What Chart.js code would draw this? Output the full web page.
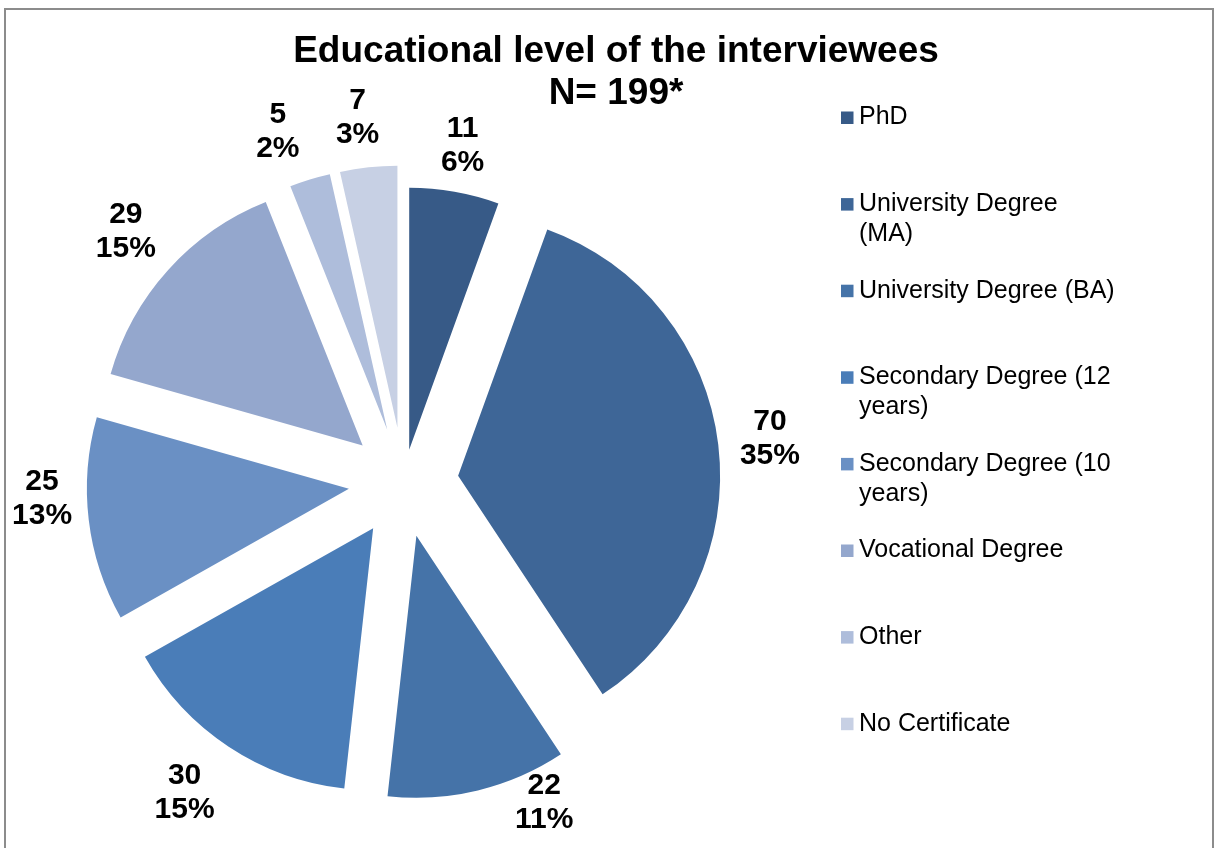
<!DOCTYPE html>
<html>
<head>
<meta charset="utf-8">
<title>Educational level of the interviewees</title>
<script src="https://cdn.jsdelivr.net/npm/chart.js@4.4.1/dist/chart.umd.min.js"></script>
<style>
  html, body { margin: 0; padding: 0; background: #fff; overflow: hidden; }
  #frame { position: absolute; left: 4px; top: 8px; width: 1206px; height: 900px; border: 2px solid #8c8c8c; }
  #wrap { position: absolute; left: 0; top: 0; width: 1216px; height: 848px; }
</style>
</head>
<body>
<div id="frame"></div>
<div id="wrap"><canvas id="pie"></canvas></div>
<script>
'use strict';
// survey data
var categories = [
    'PhD',
    ['University Degree', '(MA)'],
    'University Degree (BA)',
    ['Secondary Degree (12', 'years)'],
    ['Secondary Degree (10', 'years)'],
    'Vocational Degree',
    'Other',
    'No Certificate'
];
var counts = [11, 70, 22, 30, 25, 29, 5, 7];
var percentLabels = ['6%', '35%', '11%', '15%', '13%', '15%', '2%', '3%'];
var titleLines = ['Educational level of the interviewees', 'N= 199*'];

// look
var sliceColors = ['#375a87', '#3e6697', '#4573a8', '#4a7db8', '#6a90c4', '#94a7cd', '#aebddb', '#c7d0e4'];
var explode = [33, 55, 55, 55, 55, 55, 55, 55];   // px each slice is pulled out along its middle
var pieRadius = 262;
// label placement: extra turn (degrees) from the slice middle, and distance past the rim
var labelTurn = [0, 0, -12, 2, 5, 0, -3, -1];
var labelGap = [47, 52, 34, 63, 45, 57, 55, 50];
var FONT = "'Liberation Sans', Arial, sans-serif";

// exploded pie: move every arc out along its own bisector
// (chart.js 'offset' also resizes thin slices, so it is not used here)
var explodeSlices = {
    id: 'explodeSlices',
    afterDatasetUpdate: function (chart, args) {
        args.meta.data.forEach(function (arc, i) {
            var mid = (arc.startAngle + arc.endAngle) / 2;
            arc.x += Math.cos(mid) * explode[i];
            arc.y += Math.sin(mid) * explode[i];
        });
    }
};

// count + percent outside each slice
var sliceLabels = {
    id: 'sliceLabels',
    afterDatasetsDraw: function (chart) {
        var ctx = chart.ctx;
        var arcs = chart.getDatasetMeta(0).data;
        ctx.save();
        ctx.font = 'bold 30px ' + FONT;
        ctx.fillStyle = '#000';
        ctx.textAlign = 'center';
        ctx.textBaseline = 'middle';
        arcs.forEach(function (arc, i) {
            var a = (arc.startAngle + arc.endAngle) / 2 + labelTurn[i] * Math.PI / 180;
            var dist = arc.outerRadius + labelGap[i];
            var x = arc.x + Math.cos(a) * dist;
            var y = arc.y + Math.sin(a) * dist;
            ctx.fillText(String(counts[i]), x, y - 17);
            ctx.fillText(percentLabels[i], x, y + 17);
        });
        ctx.restore();
    }
};

// title on top, legend column on the right
var titleAndLegend = {
    id: 'titleAndLegend',
    afterDraw: function (chart) {
        var ctx = chart.ctx;
        ctx.save();
        ctx.fillStyle = '#000';
        ctx.textBaseline = 'middle';
        ctx.textAlign = 'center';
        ctx.font = 'bold 37px ' + FONT;
        titleLines.forEach(function (line, i) {
            ctx.fillText(line, 616, 52 + i * 42);
        });
        ctx.textAlign = 'left';
        ctx.font = '25px ' + FONT;
        categories.forEach(function (label, i) {
            var y = 117.5 + i * 86.6;
            ctx.fillStyle = sliceColors[i];
            ctx.fillRect(841, y - 6, 12.5, 12.5);
            ctx.fillStyle = '#000';
            [].concat(label).forEach(function (line, j) {
                ctx.fillText(line, 859, y + j * 30);
            });
        });
        ctx.restore();
    }
};

new Chart(document.getElementById('pie'), {
    type: 'pie',
    data: {
        labels: categories,
        datasets: [{
            data: counts,
            backgroundColor: sliceColors,
            borderWidth: 0
        }]
    },
    options: {
        responsive: true,
        maintainAspectRatio: false,
        animation: false,
        events: [],
        radius: pieRadius,
        layout: { padding: { left: 0, right: 409, top: 116.6, bottom: 0 } },
        plugins: {
            legend: { display: false },
            title: { display: false },
            tooltip: { enabled: false }
        }
    },
    plugins: [explodeSlices, sliceLabels, titleAndLegend]
});
</script>
</body>
</html>
